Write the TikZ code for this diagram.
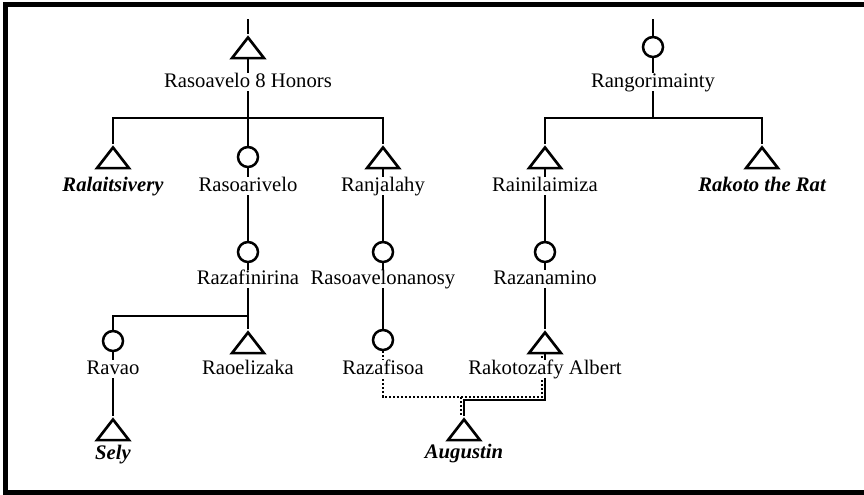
\documentclass[tikz,border=0pt]{standalone}
\usepackage{fontspec}
\setmainfont{Liberation Serif}
\usetikzlibrary{shapes.geometric,backgrounds}
\begin{document}
\begin{tikzpicture}[x=0.75pt,y=-0.75pt,
  link/.style={line width=1.5pt},
  kin/.style={line width=1.5pt, dash pattern=on 1.5pt off 1.5pt},
  male/.style={draw, fill=white, line width=2pt, isosceles triangle,
    shape border rotate=90, isosceles triangle stretches,
    minimum width=24pt, minimum height=15.5pt, inner sep=0pt, anchor=apex},
  female/.style={draw, fill=white, circle, line width=1.9pt,
    minimum size=15pt, inner sep=0pt},
  lbl/.style={fill=white, inner sep=0.5pt, anchor=base,
    text height=9.8pt, text depth=2.5pt,
    font=\fontsize{15.5}{18}\selectfont},
  hero/.style={lbl, font=\fontsize{15.5}{18}\selectfont\bfseries\itshape}]
\useasboundingbox (0,0) rectangle (864,494);
\begin{scope}
  \clip (0,0) rectangle (864,494);
  \draw[line width=3.75pt] (5.5,4.5) rectangle (866.5,492.5);
\end{scope}

% left family
\coordinate (top0) at (248,19);
\node[male] (r8hS) at (248,34) {};
\node[lbl] (r8h) at (248,87) {Rasoavelo 8 Honors};
\coordinate (j1) at (248,118);
\node[male] (ralS) at (113,144) {};
\node[hero] (ral) at (113,191) {Ralaitsivery};
\node[female] (rasoS) at (248,157) {};
\node[lbl] (raso) at (248,191) {Rasoarivelo};
\node[male] (ranS) at (383,144) {};
\node[lbl] (ran) at (383,191) {Ranjalahy};
\node[female] (razfS) at (248,252) {};
\node[lbl] (razf) at (248,284) {Razafinirina};
\node[female] (rvnS) at (383,252) {};
\node[lbl] (rvn) at (383,284) {Rasoavelonanosy};
\coordinate (j2) at (248,316);
\node[female] (ravaoS) at (113,341) {};
\node[lbl] (ravao) at (113,374) {Ravao};
\node[male] (raoelS) at (248,329) {};
\node[lbl] (raoel) at (248,374) {Raoelizaka};
\node[female] (rzfsS) at (383,340) {};
\node[lbl] (rzfs) at (383,374) {Razafisoa};
\node[male] (selyS) at (113,416) {};
\node[hero] (sely) at (113,459) {Sely};

% right family
\coordinate (top1) at (653,19);
\node[female] (rangS) at (653,47) {};
\node[lbl] (rang) at (653,87) {Rangorimainty};
\coordinate (j3) at (653,118);
\node[male] (rainS) at (545,144) {};
\node[lbl] (rain) at (545,191) {Rainilaimiza};
\node[male] (ratS) at (762,144) {};
\node[hero] (rat) at (762,191) {Rakoto the Rat};
\node[female] (rznS) at (545,252) {};
\node[lbl] (rzn) at (545,284) {Razanamino};
\node[male] (rkzS) at (545,329) {};
\node[lbl] (rkz) at (545,374) {Rakotozafy Albert};
\node[male] (augS) at (464,416) {};
\node[hero] (aug) at (464,458) {Augustin};
\coordinate (s1) at (545,400);
\coordinate (d1) at (461,397);

\begin{scope}[on background layer]
  \draw[link] (top0) -- (r8hS.apex);
  \draw[link] (r8hS.lower side) -- (j1);
  \draw[link] (ralS.apex) |- (j1) -| (ranS.apex);
  \draw[link] (j1) -- (rasoS.north);
  \draw[link] (rasoS.south) -- (razfS.north);
  \draw[link] (ranS.lower side) -- (rvnS.north);
  \draw[link] (razfS.south) -- (raoelS.apex);
  \draw[link] (ravaoS.north) |- (j2);
  \draw[link] (ravaoS.south) -- (selyS.apex);
  \draw[link] (rvnS.south) -- (rzfsS.north);
  \draw[link] (top1) -- (rangS.north);
  \draw[link] (rangS.south) -- (j3);
  \draw[link] (rainS.apex) |- (j3) -| (ratS.apex);
  \draw[link] (rainS.lower side) -- (rznS.north);
  \draw[link] (rznS.south) -- (rkzS.apex);
  \draw[link] (rkzS.lower side) -- (rkzS.lower side |- s1) -| (augS.apex);
  \draw[kin] (rzfsS.south) |- (d1) -| ([xshift=-2.25pt]rkzS.lower side);
  \draw[kin] (d1) -- ([xshift=-2.25pt]augS.apex);
\end{scope}
\end{tikzpicture}
\end{document}
